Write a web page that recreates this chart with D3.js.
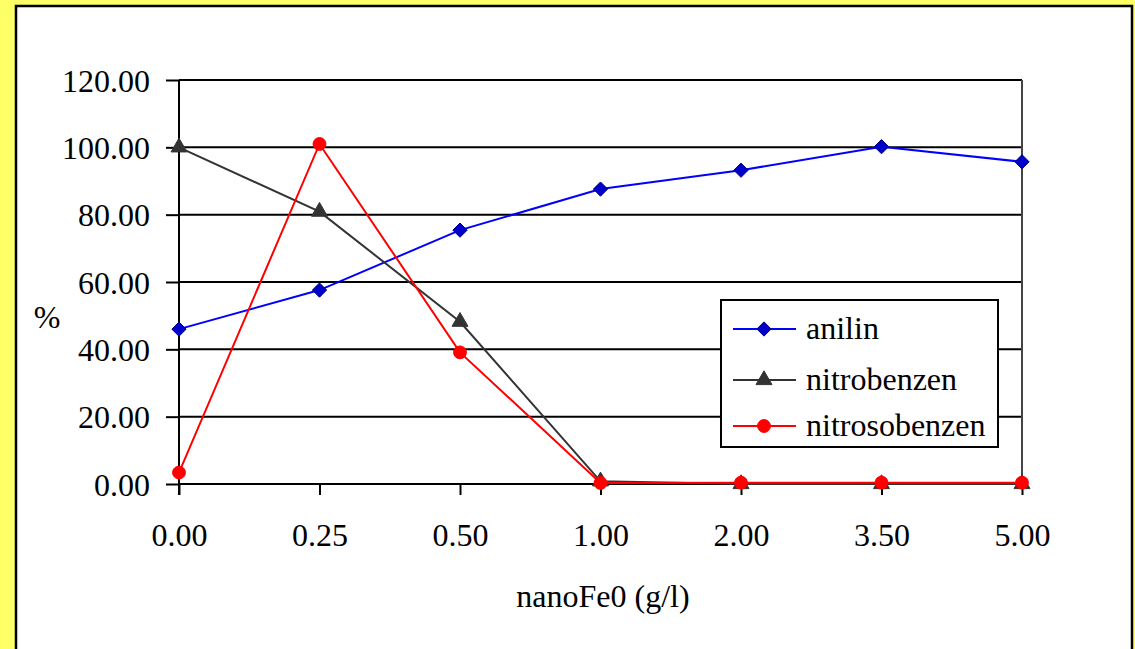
<!DOCTYPE html>
<html>
<head>
<meta charset="utf-8">
<script src="https://cdn.jsdelivr.net/npm/d3@7"></script>
<style>
  body { margin: 0; background: #FFFF66; }
  svg { display: block; }
  text { font-family: "Liberation Serif", "Times New Roman", serif; fill: #000; }
</style>
</head>
<body>
<div id="chart"></div>
<script>
// categories and series
var doses = ["0.00", "0.25", "0.50", "1.00", "2.00", "3.50", "5.00"];
var anilin = [46.0, 57.6, 75.4, 87.6, 93.2, 100.2, 95.7];
var nitrobenzen = [100.0, 80.9, 48.2, 0.8, 0.0, 0.0, 0.0];
var nitrosobenzen = [3.4, 101.0, 39.1, 0.3, 0.4, 0.4, 0.4];
var yTicks = [0, 20, 40, 60, 80, 100, 120];

var width = 1135, height = 649;
var plot = {left: 179, right: 1022, top: 80, bottom: 484};
var fontSize = "32px";

var svg = d3.select("#chart").append("svg")
    .attr("width", width)
    .attr("height", height);

// white chart area with black frame
svg.append("rect")
    .attr("x", 16).attr("y", 6)
    .attr("width", 1116).attr("height", 660)
    .attr("fill", "#fff")
    .attr("stroke", "#000")
    .attr("stroke-width", 2.5);

var x = d3.scalePoint().domain(doses).range([plot.left, plot.right]);
var y = d3.scaleLinear().domain([0, 120]).range([plot.bottom, plot.top]);

// y axis ticks + labels
var yAxis = svg.append("g")
    .attr("transform", "translate(" + plot.left + ",0)")
    .call(d3.axisLeft(y).tickValues(yTicks).tickSize(13).tickFormat(d3.format(".2f")));
yAxis.select(".domain").remove();
yAxis.selectAll("line").attr("stroke", "#000").attr("stroke-width", 2);
yAxis.selectAll("text").attr("x", -29).attr("dy", "0.35em")
    .style("font-size", fontSize).style("font-family", "Liberation Serif");

// gridlines
svg.append("g").selectAll("line")
    .data(yTicks)
    .join("line")
    .attr("x1", plot.left).attr("x2", plot.right)
    .attr("y1", function(d) { return y(d); })
    .attr("y2", function(d) { return y(d); })
    .attr("stroke", "#000").attr("stroke-width", 2);

// right frame of plot
svg.append("line")
    .attr("x1", plot.right).attr("x2", plot.right)
    .attr("y1", plot.top).attr("y2", plot.bottom)
    .attr("stroke", "#444").attr("stroke-width", 2);

// x axis
var xAxis = svg.append("g")
    .attr("transform", "translate(0," + plot.bottom + ")")
    .call(d3.axisBottom(x).tickSize(11).tickPadding(28));
xAxis.select(".domain").attr("d", "M" + plot.left + ",0H" + plot.right)
    .attr("stroke", "#000").attr("stroke-width", 2);
xAxis.selectAll("line").attr("stroke", "#000").attr("stroke-width", 2);
xAxis.selectAll("text").style("font-size", fontSize).style("font-family", "Liberation Serif")
    .attr("dy", "0.71em");

// left axis line
svg.append("line")
    .attr("x1", plot.left).attr("x2", plot.left)
    .attr("y1", plot.top).attr("y2", plot.bottom + 11)
    .attr("stroke", "#000").attr("stroke-width", 2);

// axis titles
svg.append("text").attr("x", 603).attr("y", 607)
    .attr("text-anchor", "middle").style("font-size", fontSize)
    .text("nanoFe0 (g/l)");
svg.append("text").attr("x", 47).attr("y", 328)
    .attr("text-anchor", "middle").style("font-size", fontSize)
    .text("%");

var series = [
  {name: "anilin", values: anilin, color: "#0000FF", fill: "#0000CC", stroke: "#000080", shape: d3.symbolDiamond2, size: 130},
  {name: "nitrobenzen", values: nitrobenzen, color: "#333333", fill: "#333333", stroke: "#333333", shape: d3.symbolTriangle, size: 110},
  {name: "nitrosobenzen", values: nitrosobenzen, color: "#FF0000", fill: "#FF0000", stroke: "#FF0000", shape: d3.symbolCircle, size: 130}
];

var line = d3.line()
    .x(function(d, i) { return x(doses[i]); })
    .y(function(d) { return y(d); });

series.forEach(function(s) {
    svg.append("path")
        .attr("d", line(s.values))
        .attr("fill", "none")
        .attr("stroke", s.color)
        .attr("stroke-width", 2);
});
series.forEach(function(s) {
    svg.append("g").selectAll("path")
        .data(s.values)
        .join("path")
        .attr("transform", function(d, i) { return "translate(" + x(doses[i]) + "," + y(d) + ")"; })
        .attr("d", d3.symbol().type(s.shape).size(s.size))
        .attr("fill", s.fill)
        .attr("stroke", s.stroke)
        .attr("stroke-width", 1);
});

// legend
var legend = svg.append("g").attr("transform", "translate(721,300)");
legend.append("rect")
    .attr("width", 277).attr("height", 147)
    .attr("fill", "#fff").attr("stroke", "#000").attr("stroke-width", 2);
var rows = legend.selectAll("g.row")
    .data(series)
    .join("g")
    .attr("class", "row")
    .attr("transform", function(d, i) { return "translate(0," + [29, 80, 126][i] + ")"; });
rows.append("line")
    .attr("x1", 12).attr("x2", 75)
    .attr("stroke", function(d) { return d.color; }).attr("stroke-width", 2);
rows.append("path")
    .attr("transform", "translate(43,0)")
    .attr("d", function(d) { return d3.symbol().type(d.shape).size(d.size)(); })
    .attr("fill", function(d) { return d.fill; })
    .attr("stroke", function(d) { return d.stroke; });
rows.append("text")
    .attr("x", 85).attr("dy", "0.32em")
    .style("font-size", fontSize)
    .text(function(d) { return d.name; });
</script>
</body>
</html>
